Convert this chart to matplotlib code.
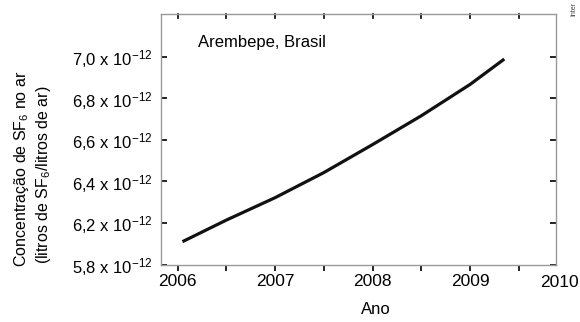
import numpy as np
import matplotlib
matplotlib.use('Agg')
import matplotlib.pyplot as plt

plt.rcParams['font.family'] = ['Liberation Sans', 'DejaVu Sans']
plt.rcParams['mathtext.fontset'] = 'custom'
plt.rcParams['mathtext.rm'] = 'Liberation Sans'
plt.rcParams['mathtext.it'] = 'Liberation Sans'
plt.rcParams['mathtext.default'] = 'regular'

# dados (concentração em 10^-12)
anos = [2006.05, 2006.5, 2007.0, 2007.5, 2008.0, 2008.5, 2009.0, 2009.35]
conc = [6.110, 6.214, 6.322, 6.443, 6.578, 6.717, 6.868, 6.990]

# posições dos ticks e rótulos (o original rotula a base como 5,8)
y_ticks = [6.0, 6.2, 6.4, 6.6, 6.8, 7.0]
y_labels = ['5,8', '6,2', '6,4', '6,6', '6,8', '7,0']
x_ticks = [2006, 2007, 2008, 2009]
x_minor = [2006.5, 2007.5, 2008.5, 2009.5]

fig = plt.figure(figsize=(5.8, 3.22), dpi=100)
ax = fig.add_axes([161/580, 1 - 264.5/322, 395/580, 250.5/322])

ax.plot(anos, conc, color='#111111', linewidth=2.3, solid_capstyle='butt',
        solid_joinstyle='round')

ax.set_xlim(2005.83, 2009.88)
ax.set_ylim(6.0, 7.207)

for s in ax.spines.values():
    s.set_color('#999999')
    s.set_linewidth(1.0)

ax.set_yticks(y_ticks)
ax.set_yticklabels([l + r' x 10$^{-12}$' for l in y_labels], fontsize=12)
ax.set_xticks(x_ticks)
ax.set_xticks(x_minor, minor=True)
ax.set_xticklabels([str(a) for a in x_ticks], fontsize=12.5)

ax.tick_params(axis='y', direction='in', left=True, right=True, length=4, width=1.2, pad=6, color='black')
ax.tick_params(axis='x', which='both', direction='out', bottom=True, top=False, length=4, width=1.2, pad=3, color='black')

# ticks de cima apontando para dentro
for xv in x_ticks + x_minor:
    if xv < 2009.88:
        ax.plot([xv, xv], [7.207, 7.19], color='black', linewidth=1.2, clip_on=False)

# rótulo 2010 fora da área do gráfico
ax.text(2009.92, -0.042, '2010', transform=ax.get_xaxis_transform(),
        ha='center', va='top', fontsize=12.5, clip_on=False)

ax.text(0.094, 0.888, 'Arembepe, Brasil', transform=ax.transAxes,
        ha='left', va='center', fontsize=12)

fig.text(376/580, 1 - 310/322, 'Ano', ha='center', va='center', fontsize=12)
fig.text(22/580, 1 - 169/322, 'Concentração de SF$_6$ no ar', rotation=90,
         ha='center', va='center', fontsize=11.5)
fig.text(44/580, 1 - 175/322, '(litros de SF$_6$/litros de ar)', rotation=90,
         ha='center', va='center', fontsize=11.5)
fig.text(0.995, 0.995, 'Inter', rotation=90, ha='right', va='top', fontsize=5, color='#444444')

fig.savefig('out.png', dpi=100)
